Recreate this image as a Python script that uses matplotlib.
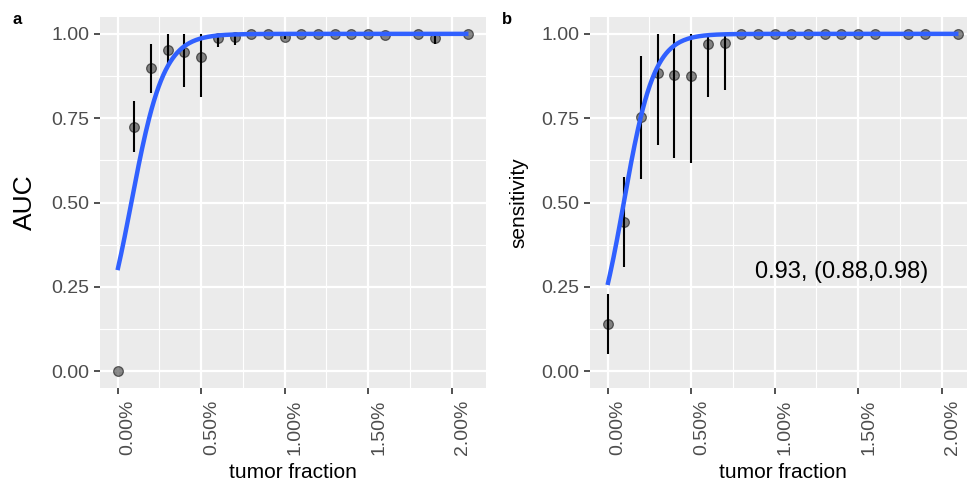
import numpy as np
import matplotlib
matplotlib.use("Agg")
import matplotlib.pyplot as plt
import matplotlib.transforms as mtransforms

plt.rcParams['font.family'] = ['Liberation Sans', 'DejaVu Sans']

# ---------------- data ----------------
tumor_fraction = [0.0, 0.1, 0.2, 0.3, 0.4, 0.5, 0.6, 0.7, 0.8, 0.9, 1.0,
                  1.1, 1.2, 1.3, 1.4, 1.5, 1.6, 1.8, 1.9, 2.1]  # percent

auc_mean = [0.00, 0.724, 0.898, 0.952, 0.947, 0.931, 0.987, 0.990, 1.0, 1.0, 0.992,
            1.0, 1.0, 1.0, 1.0, 1.0, 0.998, 1.0, 0.989, 1.0]
auc_lo = [0.00, 0.650, 0.825, 0.908, 0.843, 0.812, 0.960, 0.967, 1.0, 1.0, 0.985,
          1.0, 1.0, 1.0, 1.0, 1.0, 0.995, 1.0, 0.970, 1.0]
auc_hi = [0.00, 0.800, 0.970, 1.0, 1.0, 1.0, 1.0, 1.0, 1.0, 1.0, 1.0,
          1.0, 1.0, 1.0, 1.0, 1.0, 1.0, 1.0, 1.0, 1.0]

sens_mean = [0.139, 0.443, 0.754, 0.885, 0.878, 0.876, 0.970, 0.974, 1.0, 1.0, 1.0,
             1.0, 1.0, 1.0, 1.0, 1.0, 1.0, 1.0, 1.0, 1.0]
sens_lo = [0.050, 0.310, 0.570, 0.670, 0.632, 0.617, 0.812, 0.833, 1.0, 1.0, 1.0,
           1.0, 1.0, 1.0, 1.0, 1.0, 1.0, 1.0, 1.0, 1.0]
sens_hi = [0.228, 0.577, 0.935, 1.0, 1.0, 1.0, 1.0, 1.0, 1.0, 1.0, 1.0,
           1.0, 1.0, 1.0, 1.0, 1.0, 1.0, 1.0, 1.0, 1.0]

# logistic smooth fits (intercept, slope per 1 % tumor fraction)
auc_fit = (-0.85, 10.3)
sens_fit = (-1.07, 11.0)

sens_annotation = "0.93, (0.88,0.98)"
x_ticks = [0.0, 0.5, 1.0, 1.5, 2.0]
x_tick_labels = ["0.00%", "0.50%", "1.00%", "1.50%", "2.00%"]
y_ticks = [0.0, 0.25, 0.5, 0.75, 1.0]
y_tick_labels = ["0.00", "0.25", "0.50", "0.75", "1.00"]

# ---------------- figure ----------------
W, H = 967, 482
fig = plt.figure(figsize=(W / 100, H / 100), dpi=100)

def px_axes(l, t, r, b):
    return fig.add_axes([l / W, 1 - b / H, (r - l) / W, (b - t) / H])

ax_a = px_axes(100, 17, 486, 388)
ax_b = px_axes(590, 17, 976, 388)

def style(ax, ylabel, ylabel_size):
    ax.set_facecolor('#EBEBEB')
    for s in ax.spines.values():
        s.set_visible(False)
    xmin, xmax = min(tumor_fraction), max(tumor_fraction)
    ex = (xmax - xmin) * 0.05
    ax.set_xlim(xmin - ex, xmax + ex)
    ax.set_ylim(-0.05, 1.05)
    ax.set_xticks(x_ticks)
    ax.set_xticklabels(x_tick_labels, rotation=90, ha='left', va='top')
    ax.set_xticks([0.25, 0.75, 1.25, 1.75], minor=True)
    ax.set_yticks(y_ticks)
    ax.set_yticklabels(y_tick_labels)
    ax.set_yticks([0.125, 0.375, 0.625, 0.875], minor=True)
    ax.grid(which='major', color='white', linewidth=1.6)
    ax.grid(which='minor', color='white', linewidth=0.8)
    ax.set_axisbelow(True)
    ax.tick_params(which='major', length=4, width=1.2, color='#333333',
                   labelcolor='#4D4D4D', labelsize=14)
    ax.tick_params(axis='x', which='major', pad=4.5)
    ax.tick_params(axis='y', which='major', pad=3.5)
    ax.tick_params(which='minor', length=0)
    off = mtransforms.ScaledTranslation(2 / 100, 0, fig.dpi_scale_trans)
    for lab in ax.get_xticklabels():
        lab.set_transform(lab.get_transform() + off)
    ax.set_xlabel('tumor fraction', fontsize=15)
    ax.xaxis.set_label_coords(0.5, -(478 - 388) / 371)
    ax.xaxis.label.set_va('baseline')
    ax.set_ylabel(ylabel, fontsize=ylabel_size)

def draw(ax, mean, lo, hi, fit):
    x = np.array(tumor_fraction)
    ax.vlines(x, lo, hi, color='black', linewidth=1.5, zorder=3)
    ax.plot(x, mean, 'o', markersize=7, markerfacecolor=(0, 0, 0, 0.45),
            markeredgecolor=(0, 0, 0, 0.55), markeredgewidth=0.9, zorder=4)
    xs = np.linspace(min(tumor_fraction), max(tumor_fraction), 300)
    ys = 1 / (1 + np.exp(-(fit[0] + fit[1] * xs)))
    ax.plot(xs, ys, color='#3060FF', linewidth=3.2, zorder=5, solid_capstyle='butt')

style(ax_a, 'AUC', 19)
style(ax_b, 'sensitivity', 15)
ax_a.yaxis.set_label_coords(-0.163, 0.5)
ax_b.yaxis.set_label_coords(-(590 - 528) / 386, 0.5)

draw(ax_a, auc_mean, auc_lo, auc_hi, auc_fit)
draw(ax_b, sens_mean, sens_lo, sens_hi, sens_fit)

ax_b.text(1.40, 0.295, sens_annotation, fontsize=17, ha='center', va='center', zorder=6)

fig.text(17 / W, 1 - 19 / H, 'a', fontsize=12, fontweight='bold', ha='center', va='center')
fig.text(507 / W, 1 - 19 / H, 'b', fontsize=12, fontweight='bold', ha='center', va='center')

fig.savefig('out.png', dpi=100, facecolor='white')
